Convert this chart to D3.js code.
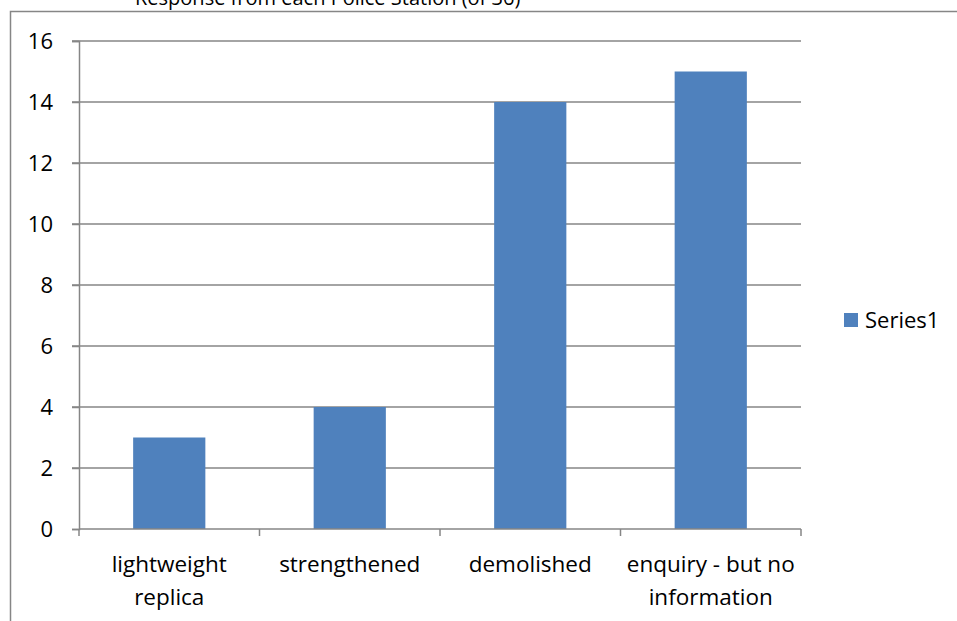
<!DOCTYPE html>
<html>
<head>
<meta charset="utf-8">
<script src="https://cdn.jsdelivr.net/npm/d3@7"></script>
<style>
  html, body { margin: 0; padding: 0; background: #fff; }
  svg { display: block; }
  text { font-family: "Open Sans", "Liberation Sans", sans-serif; fill: #000; }
</style>
</head>
<body>
<svg id="chart" width="957" height="621"></svg>
<script>
// Outcome counts per category
const categories = [["lightweight", "replica"], ["strengthened"], ["demolished"], ["enquiry - but no", "information"]];
const series1 = [3, 4, 14, 15];
const yTicks = [0, 2, 4, 6, 8, 10, 12, 14, 16];
const seriesName = "Series1";
const titleText = "Response from each Police Station (of 36)";

const W = 957, H = 621;
const margin = { left: 79, right: 801, top: 41, bottom: 529 };
const barColor = "#4F81BD";
const gridColor = "#868686";
const fontFamily = "'Open Sans', 'Liberation Sans', sans-serif";
const tickFontSize = 22;
const labelFontSize = 22.5;

const svg = d3.select("#chart");

// Chart title, partly above the top edge
svg.append("text")
  .attr("x", 135).attr("y", 5)
  .attr("font-size", 20)
  .attr("fill", "#000")
  .text(titleText);

// Chart area frame (top and left edges)
svg.append("path")
  .attr("d", `M10.5,${H} V11.5 H${W}`)
  .attr("fill", "none")
  .attr("stroke", gridColor)
  .attr("stroke-width", 1.5);

const x = d3.scaleBand()
  .domain(d3.range(categories.length))
  .range([margin.left, margin.right])
  .paddingInner(0.6)
  .paddingOuter(0.3);

const y = d3.scaleLinear()
  .domain([0, 16])
  .range([margin.bottom, margin.top]);

// Horizontal gridlines
svg.append("g")
  .selectAll("line")
  .data(yTicks.filter(d => d > 0))
  .join("line")
  .attr("x1", margin.left - 7).attr("x2", margin.right)
  .attr("y1", d => y(d)).attr("y2", d => y(d))
  .attr("stroke", gridColor)
  .attr("stroke-width", 1.5);

// Bars
svg.append("g")
  .selectAll("rect")
  .data(series1)
  .join("rect")
  .attr("x", (d, i) => x(i))
  .attr("width", x.bandwidth())
  .attr("y", d => y(d))
  .attr("height", d => y(0) - y(d))
  .attr("fill", barColor);

// Y axis
const yAxis = svg.append("g")
  .attr("transform", `translate(${margin.left},0)`)
  .call(d3.axisLeft(y).tickValues(yTicks).tickSize(7).tickPadding(19));
yAxis.select(".domain").attr("stroke", gridColor).attr("stroke-width", 1.5);
yAxis.selectAll(".tick line").attr("stroke", gridColor).attr("stroke-width", 1.5);
yAxis.selectAll(".tick text")
  .attr("font-size", tickFontSize)
  .attr("font-family", fontFamily)
  .attr("fill", "#000");

// X axis: baseline plus category boundary ticks
const boundaries = d3.range(categories.length + 1).map(i => margin.left + i * (margin.right - margin.left) / categories.length);
svg.append("line")
  .attr("x1", margin.left).attr("x2", margin.right)
  .attr("y1", y(0)).attr("y2", y(0))
  .attr("stroke", gridColor).attr("stroke-width", 1.5);
svg.append("g")
  .selectAll("line")
  .data(boundaries)
  .join("line")
  .attr("x1", d => d).attr("x2", d => d)
  .attr("y1", y(0)).attr("y2", y(0) + 7)
  .attr("stroke", gridColor).attr("stroke-width", 1.5);

// Category labels
svg.append("g")
  .selectAll("text")
  .data(categories)
  .join("text")
  .attr("x", (d, i) => x(i) + x.bandwidth() / 2)
  .attr("y", 572)
  .attr("text-anchor", "middle")
  .attr("font-size", labelFontSize)
  .each(function (lines) {
    d3.select(this).selectAll("tspan")
      .data(lines)
      .join("tspan")
      .attr("x", d3.select(this).attr("x"))
      .attr("dy", (d, j) => j === 0 ? 0 : 33)
      .text(d => d);
  });

// Legend
const legend = svg.append("g").attr("transform", "translate(844,313)");
legend.append("rect").attr("width", 14).attr("height", 14).attr("fill", barColor);
legend.append("text")
  .attr("x", 21).attr("y", 15)
  .attr("font-size", tickFontSize)
  .text(seriesName);
</script>
</body>
</html>
